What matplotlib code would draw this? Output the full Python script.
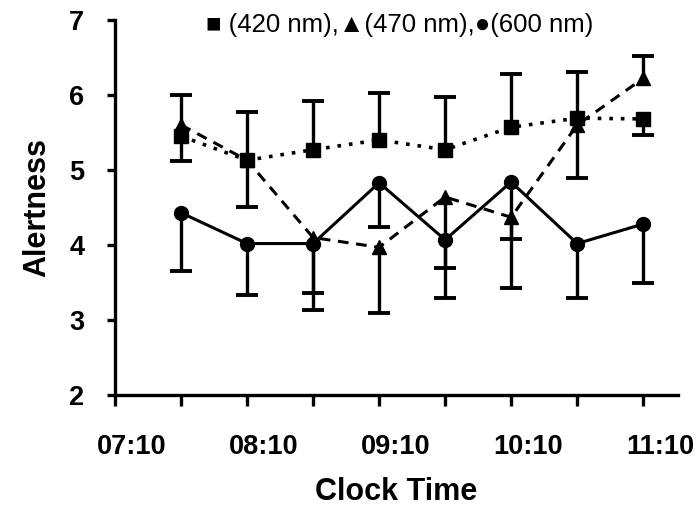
import numpy as np
import matplotlib
matplotlib.use("Agg")
import matplotlib.pyplot as plt
import matplotlib.transforms as mtransforms

plt.rcParams['font.family'] = ['Liberation Sans', 'DejaVu Sans']

# sampling slots (1..8) between 07:10 and 11:10
slots = [1, 2, 3, 4, 5, 6, 7, 8]
tick_labels = ['07:10', '', '08:10', '', '09:10', '', '10:10', '', '11:10']

nan = np.nan
# 420 nm (squares, dotted)
blue = [5.45, 5.13, 5.27, 5.40, 5.27, 5.57, 5.69, 5.68]
blue_hi = [6.00, 5.77, 5.92, 6.03, 5.97, 6.28, 6.31, nan]
blue_lo = [nan, nan, nan, nan, nan, nan, nan, 5.47]
# 470 nm (triangles, dashed)
cyan = [5.60, 5.13, 4.10, 3.97, 4.64, 4.37, 5.60, 6.22]
cyan_hi = [nan, nan, nan, nan, nan, nan, nan, 6.52]
cyan_lo = [5.12, 4.51, 3.13, 3.09, 3.69, 3.43, 4.89, nan]
# 600 nm (circles, solid)
orange = [4.43, 4.02, 4.02, 4.83, 4.07, 4.84, 4.02, 4.28]
orange_hi = [nan] * 8
orange_lo = [3.65, 3.33, 3.36, 4.24, 3.29, 4.08, 3.30, 3.49]

fig = plt.figure(figsize=(6.97, 5.08), dpi=100)
ax = fig.add_axes([0.165, 0.222, 0.808, 0.739])

x = np.array(slots)


def bars(y, bound):
    b = np.array(bound, dtype=float)
    m = ~np.isnan(b)
    ax.vlines(x[m], np.array(y)[m], b[m], color='black', lw=2.4, zorder=2)
    ax.plot(x[m], b[m], ls='none', marker='_', ms=16, mew=2.8, color='black', zorder=2)


for y, hi, lo in [(blue, blue_hi, blue_lo), (cyan, cyan_hi, cyan_lo), (orange, orange_hi, orange_lo)]:
    bars(y, hi)
    bars(y, lo)

ax.plot(x, blue, ls=(0, (1, 2.2)), lw=2.6, color='black', marker='s', ms=10, zorder=3)
ax.plot(x, cyan, ls=(0, (3.5, 2.5)), lw=2.2, color='black', marker='^', ms=10, zorder=3)
ax.plot(x, orange, ls='-', lw=2.2, color='black', marker='o', ms=10, zorder=3)

ax.set_xlim(0, 8.53)
ax.set_ylim(2, 7)
ax.set_xticks(range(9))
ax.set_xticklabels(tick_labels)
ax.set_yticks([2, 3, 4, 5, 6, 7])

for s in ['top', 'right']:
    ax.spines[s].set_visible(False)
for s in ['left', 'bottom']:
    ax.spines[s].set_linewidth(2.4)

ax.tick_params(axis='x', length=8, width=2.4, pad=20, labelsize=19.5)
ax.tick_params(axis='y', length=6, width=2.4, pad=16, labelsize=19.5)
for lab in ax.get_xticklabels() + ax.get_yticklabels():
    lab.set_fontweight('bold')

off = mtransforms.ScaledTranslation(17 / 100, 0, fig.dpi_scale_trans)
for lab in ax.get_xticklabels():
    lab.set_transform(lab.get_transform() + off)

ax.set_xlabel('Clock Time', fontsize=22, fontweight='bold', labelpad=12)
ax.set_ylabel('Alertness', fontsize=22, fontweight='bold', labelpad=12)

fig.text(0.574, 0.951, '\u25a0 (420 nm),\u25b2(470 nm),\u25cf(600 nm)', ha='center', va='center',
         fontsize=18.5, family=['Liberation Sans', 'DejaVu Sans'])

fig.savefig('out.png', dpi=100)
